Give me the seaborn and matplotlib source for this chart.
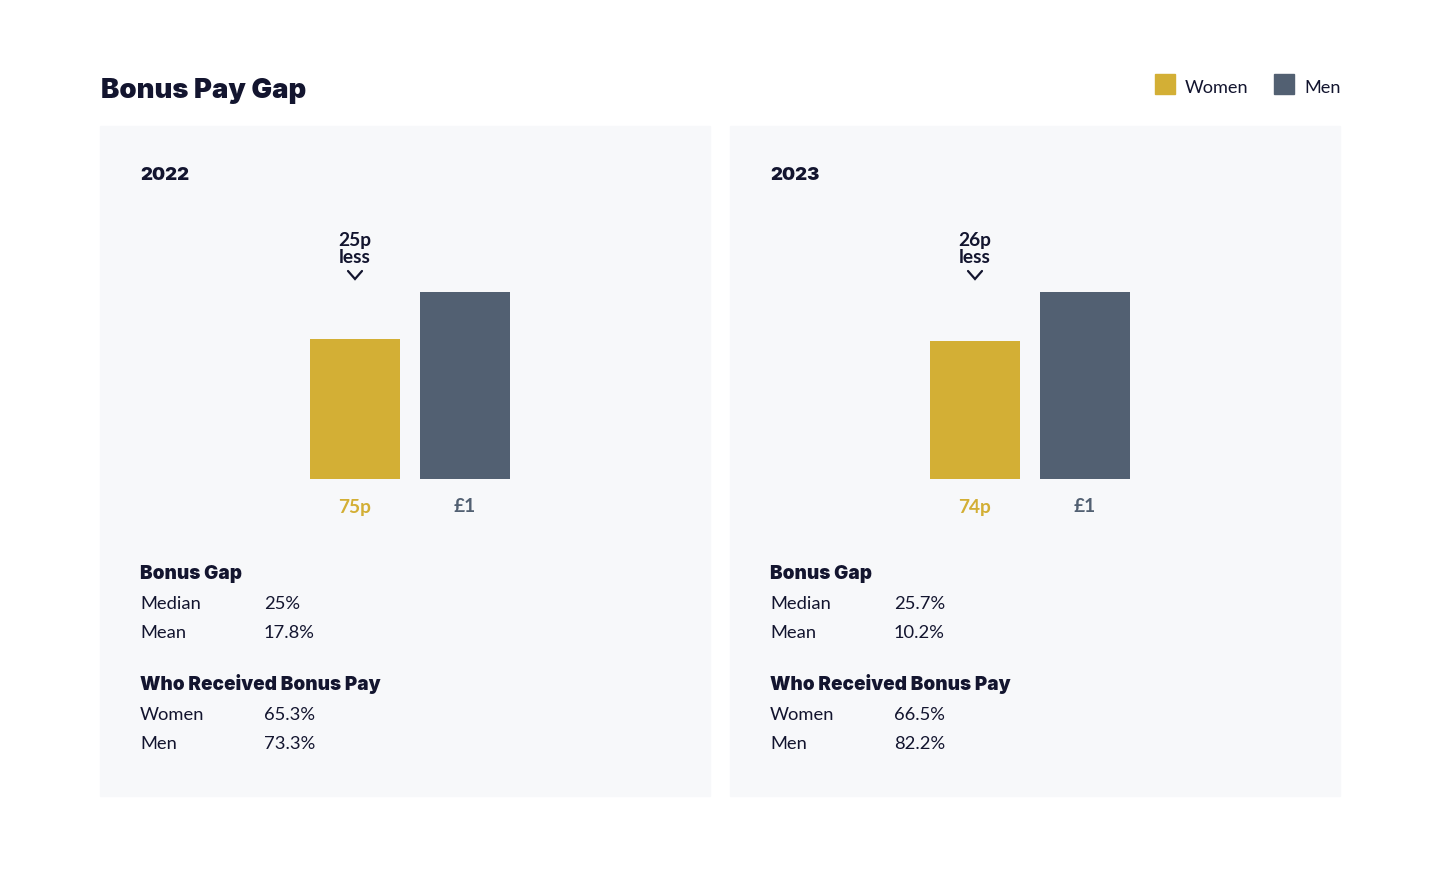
import matplotlib
matplotlib.use("Agg")
import matplotlib.pyplot as plt
from matplotlib.patches import Rectangle
import seaborn as sns
import pandas as pd

# ---- data ----
years = ["2022", "2023"]
genders = ["Women", "Men"]
women_pay = [0.75, 0.74]          # pay per £1 of men's
men_pay = [1.00, 1.00]
women_labels = ["75p", "74p"]
men_labels = ["£1", "£1"]
median_gap = ["25%", "25.7%"]
mean_gap = ["17.8%", "10.2%"]
women_received = ["65.3%", "66.5%"]
men_received = ["73.3%", "82.2%"]

colors = {"Women": "#D3AF35", "Men": "#526072"}
TEXT = "#13152F"
PANEL = "#F7F8FA"

sns.set_theme(style="white")
plt.rcParams["font.family"] = ["Lato", "DejaVu Sans"]

W, H = 1440, 870
fig = plt.figure(figsize=(W / 100, H / 100), dpi=100)
fig.patch.set_facecolor("white")


def fx(x):
    return x / W


def fy(y):
    return (H - y) / H


HEAVY = dict(family=["Inter", "DejaVu Sans"], fontweight="black")

# title
fig.text(fx(101), fy(91), "Bonus Pay Gap", ha="left", va="center",
         fontsize=19.8, color=TEXT, **HEAVY)

# legend
for (gx, tx, g) in [(1155, 1185, "Women"), (1274, 1304, "Men")]:
    fig.patches.append(Rectangle((fx(gx), fy(95)), fx(20), 20 / H,
                                 transform=fig.transFigure, color=colors[g], zorder=1))
    fig.text(fx(tx), fy(88), g, ha="left", va="center", fontsize=13.1, color=TEXT)

panel_lefts = [100, 730]
women_centers = [355, 975]
for i, yr in enumerate(years):
    px0 = panel_lefts[i]
    fig.patches.append(Rectangle((fx(px0), fy(797)), fx(610), 670 / H,
                                 transform=fig.transFigure, color=PANEL, zorder=-5))
    fig.text(fx(px0 + 40), fy(175), yr, ha="left", va="center",
             fontsize=13.3, color=TEXT, **HEAVY)

    # bar axes: data unit x = 110 px
    ax_left = women_centers[i] - 55
    ax = fig.add_axes([fx(ax_left), fy(480), fx(220), 187 / H], zorder=2)
    df = pd.DataFrame({"gender": genders, "value": [women_pay[i], men_pay[i]]})
    sns.barplot(data=df, x="gender", y="value", hue="gender", palette=colors,
                order=genders, hue_order=genders, width=90 / 110, saturation=1,
                legend=False, linewidth=0, ax=ax)
    ax.set_xlim(-0.5, 1.5)
    ax.set_ylim(0, 1.0)
    ax.axis("off")
    ax.patch.set_alpha(0)

    # value labels below bars
    ax.text(0, -27 / 187, women_labels[i], ha="center", va="center", fontsize=13.8,
            fontweight="bold", color=colors["Women"], clip_on=False)
    ax.text(1, -27 / 187, men_labels[i], ha="center", va="center", fontsize=13.8,
            fontweight="bold", color=colors["Men"], clip_on=False)

    # difference annotation
    diff = round((men_pay[i] - women_pay[i]) * 100)
    ax.text(0, (480 - 249) / 187, f"{diff}p\nless", ha="center", va="center",
            fontsize=13.8, fontweight="bold", color=TEXT, linespacing=0.95,
            clip_on=False)
    dx = 7 / 110
    ax.plot([-dx, 0, dx], [(480 - 272) / 187, (480 - 280) / 187, (480 - 272) / 187],
            color=TEXT, lw=1.6, solid_capstyle="round", solid_joinstyle="miter",
            clip_on=False)

    # stats text
    tx = px0 + 40
    vx = px0 + 164
    fig.text(fx(tx), fy(574), "Bonus Gap", ha="left", va="center",
             fontsize=13.6, color=TEXT, **HEAVY)
    fig.text(fx(tx), fy(604), "Median", ha="left", va="center", fontsize=13.2, color=TEXT)
    fig.text(fx(vx), fy(604), median_gap[i], ha="left", va="center", fontsize=13.2, color=TEXT)
    fig.text(fx(tx), fy(633), "Mean", ha="left", va="center", fontsize=13.2, color=TEXT)
    fig.text(fx(vx), fy(633), mean_gap[i], ha="left", va="center", fontsize=13.2, color=TEXT)
    fig.text(fx(tx), fy(684), "Who Received Bonus Pay", ha="left", va="center",
             fontsize=13.6, color=TEXT, **HEAVY)
    fig.text(fx(tx), fy(715), "Women", ha="left", va="center", fontsize=13.2, color=TEXT)
    fig.text(fx(vx), fy(715), women_received[i], ha="left", va="center", fontsize=13.2, color=TEXT)
    fig.text(fx(tx), fy(744), "Men", ha="left", va="center", fontsize=13.2, color=TEXT)
    fig.text(fx(vx), fy(744), men_received[i], ha="left", va="center", fontsize=13.2, color=TEXT)

fig.savefig("out.png", dpi=100, facecolor="white")
